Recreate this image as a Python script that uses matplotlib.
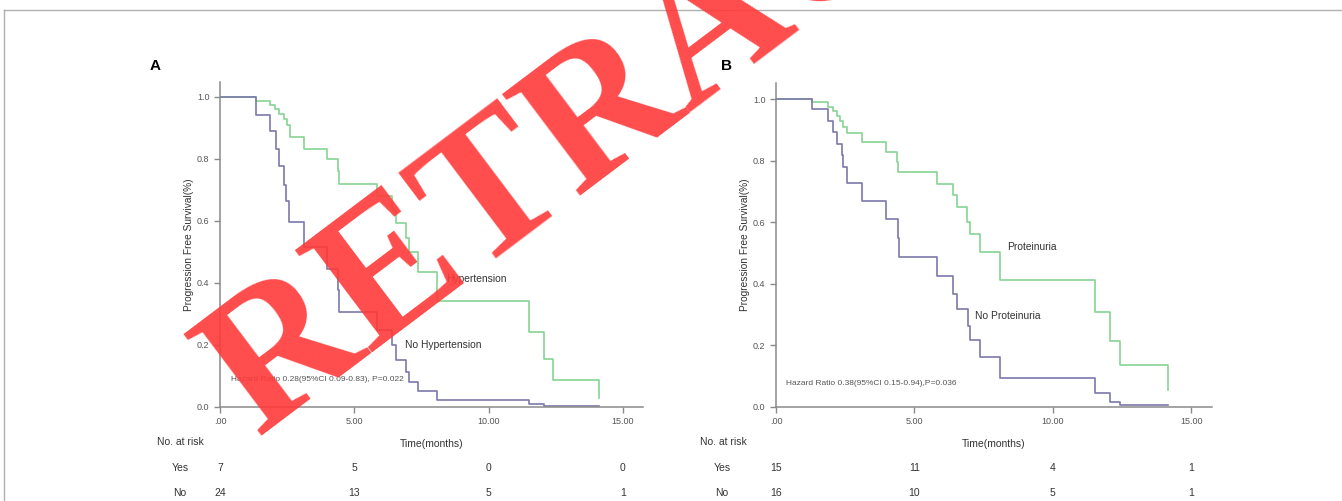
import matplotlib
matplotlib.use("Agg")
import matplotlib.pyplot as plt
import matplotlib.transforms as mtransforms
from matplotlib.lines import Line2D

plt.rcParams["font.family"] = ["Liberation Sans", "DejaVu Sans"]

# panel A: hypertension
a_hyp_t = [0, 1.34, 1.86, 2.05, 2.21, 2.38, 2.48, 2.60, 3.12, 3.97, 4.40, 4.44, 5.83,
           6.41, 6.57, 6.94, 7.04, 7.38, 8.08, 11.50, 12.06, 12.40, 14.13]
a_hyp_s = [1.0, 0.986, 0.975, 0.96, 0.945, 0.93, 0.91, 0.87, 0.832, 0.80, 0.76, 0.72, 0.68,
           0.636, 0.593, 0.544, 0.50, 0.436, 0.343, 0.242, 0.156, 0.088, 0.03]
a_no_t = [0, 1.34, 1.86, 2.08, 2.21, 2.38, 2.44, 2.58, 3.12, 3.99, 4.40, 4.44, 5.83,
          6.41, 6.55, 6.94, 7.04, 7.38, 8.08, 11.50, 12.06, 14.13]
a_no_s = [1.0, 0.943, 0.889, 0.832, 0.776, 0.717, 0.663, 0.595, 0.517, 0.444, 0.377, 0.307, 0.248,
          0.199, 0.151, 0.113, 0.081, 0.052, 0.022, 0.009, 0.002, 0.002]

# panel B: proteinuria
b_pro_t = [0, 1.31, 1.87, 2.05, 2.19, 2.31, 2.41, 2.55, 3.12, 3.96, 4.36, 4.41, 5.81,
           6.41, 6.53, 6.89, 6.99, 7.37, 8.10, 11.53, 12.05, 12.43, 14.16]
b_pro_s = [1.0, 0.989, 0.973, 0.961, 0.945, 0.929, 0.91, 0.889, 0.862, 0.829, 0.797, 0.762, 0.724,
           0.689, 0.649, 0.602, 0.561, 0.503, 0.411, 0.31, 0.214, 0.137, 0.054]
b_no_t = [0, 1.31, 1.87, 2.07, 2.19, 2.37, 2.43, 2.55, 3.12, 3.98, 4.39, 4.43, 5.83,
          6.41, 6.53, 6.93, 6.99, 7.37, 8.10, 11.53, 12.05, 12.43, 14.16]
b_no_s = [1.0, 0.966, 0.93, 0.893, 0.855, 0.817, 0.778, 0.726, 0.668, 0.61, 0.548, 0.486, 0.424,
          0.368, 0.318, 0.264, 0.216, 0.162, 0.095, 0.045, 0.016, 0.005, 0.005]

risk_times = [0, 5, 10, 15]
a_risk_yes = [7, 5, 0, 0]
a_risk_no = [24, 13, 5, 1]
b_risk_yes = [15, 11, 4, 1]
b_risk_no = [16, 10, 5, 1]

xticks = [0, 5, 10, 15]
xticklabels = [".00", "5.00", "10.00", "15.00"]
yticks = [0.0, 0.2, 0.4, 0.6, 0.8, 1.0]

GREEN = "#86d494"
PURPLE = "#7c79aa"
SPINE = "#8a8a8a"
TEXT = "#333333"


def draw_panel(ax, t1, s1, t2, s2, lab1, pos1, lab2, pos2, hr_text, hr_pos, ytop):
    ax.step(t1, s1, where="post", color=GREEN, lw=1.2)
    ax.step(t2, s2, where="post", color=PURPLE, lw=1.2)
    ax.set_xlim(0, 15.75)
    ax.set_ylim(0, ytop)
    ax.set_xticks(xticks)
    ax.set_xticklabels(xticklabels)
    ax.set_yticks(yticks)
    ax.set_yticklabels([f"{v:.1f}" for v in yticks])
    for side in ("top", "right"):
        ax.spines[side].set_visible(False)
    for side in ("left", "bottom"):
        ax.spines[side].set_color(SPINE)
        ax.spines[side].set_linewidth(1.1)
    ax.tick_params(colors=SPINE, labelcolor="#555555", labelsize=6.5, length=4, width=1.0)
    ax.set_ylabel("Progression Free Survival(%)", fontsize=7.3, color=TEXT, labelpad=2)
    ax.set_xlabel("Time(months)", fontsize=7.5, color=TEXT, labelpad=9)
    ax.text(pos1[0], pos1[1], lab1, fontsize=7.4, color=TEXT, va="center")
    ax.text(pos2[0], pos2[1], lab2, fontsize=7.4, color=TEXT, va="center")
    ax.text(hr_pos[0], hr_pos[1], hr_text, fontsize=6.0, color="#555555", va="center")


def draw_risk(fig, ax, yes, no, head_x, row_x):
    tr = mtransforms.blended_transform_factory(ax.transData, fig.transFigure)
    fig.text(head_x, 0.118, "No. at risk", fontsize=7.5, color=TEXT, va="center")
    fig.text(row_x, 0.066, "Yes", fontsize=7.5, color=TEXT, va="center", ha="center")
    fig.text(row_x, 0.016, "No", fontsize=7.5, color=TEXT, va="center", ha="center")
    for t, y1, y2 in zip(risk_times, yes, no):
        ax.text(t, 0.066, str(y1), transform=tr, fontsize=7.5, color=TEXT, ha="center", va="center")
        ax.text(t, 0.016, str(y2), transform=tr, fontsize=7.5, color=TEXT, ha="center", va="center")


fig = plt.figure(figsize=(13.42, 5.01), dpi=100)
ax_a = fig.add_axes([220 / 1342, 1 - 407 / 501, 423 / 1342, 325 / 501])
ax_b = fig.add_axes([776 / 1342, 1 - 407 / 501, 436 / 1342, 324 / 501])

draw_panel(ax_a, a_hyp_t, a_hyp_s, a_no_t, a_no_s,
           "Hypertension", (8.43, 0.413), "No Hypertension", (6.9, 0.2),
           "Hazard Ratio 0.28(95%CI 0.09-0.83), P=0.022", (0.4, 0.088), 1.048)
draw_panel(ax_b, b_pro_t, b_pro_s, b_no_t, b_no_s,
           "Proteinuria", (8.34, 0.521), "No Proteinuria", (7.19, 0.294),
           "Hazard Ratio 0.38(95%CI 0.15-0.94),P=0.036", (0.36, 0.076), 1.052)

draw_risk(fig, ax_a, a_risk_yes, a_risk_no, 157 / 1342, 180 / 1342)
draw_risk(fig, ax_b, b_risk_yes, b_risk_no, 700 / 1342, 722 / 1342)

fig.text(155 / 1342, 1 - 66 / 501, "A", fontsize=11, fontweight="bold", ha="center", va="center")
fig.text(726 / 1342, 1 - 66 / 501, "B", fontsize=11, fontweight="bold", ha="center", va="center")

# page frame
fx, fy = 4 / 1342, 1 - 10 / 501
fig.add_artist(Line2D([fx, 1], [fy, fy], transform=fig.transFigure, color="#b0b0b0", lw=1))
fig.add_artist(Line2D([fx, fx], [0, fy], transform=fig.transFigure, color="#b0b0b0", lw=1))

# watermark
fig.text(257 / 1342, 1 - 436 / 501, "RETRACTED", fontsize=140, family="Liberation Serif",
         fontweight="bold", color="#ff3939", alpha=0.9, rotation=37, rotation_mode="anchor",
         ha="left", va="baseline", zorder=10)

fig.savefig("out.png", dpi=100)
